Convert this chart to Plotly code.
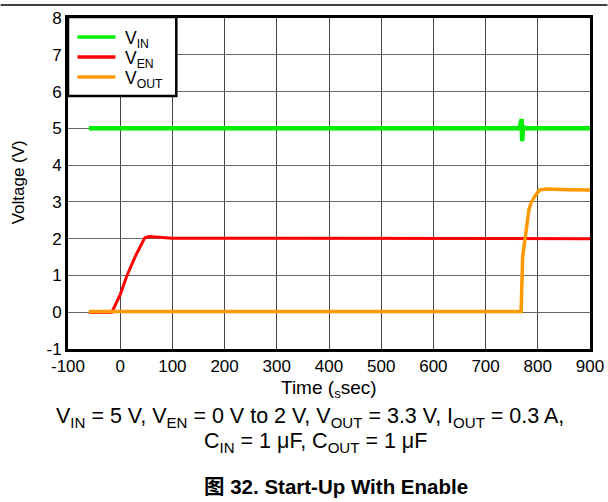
import plotly.graph_objects as go

# values
vin_t = [-60, 200, 500, 765, 769, 770, 772, 775, 900]
vin_v = [5.0, 5.0, 5.0, 5.0, 5.25, 4.65, 5.05, 5.0, 5.0]

ven_t = [-60, -16, 0, 13, 30, 41, 47, 55, 70, 100, 900]
ven_v = [0.0, 0.0, 0.48, 1.0, 1.55, 1.88, 2.02, 2.06, 2.04, 2.01, 2.0]

vout_t = [-60, 768, 771, 775, 778, 783, 787, 794, 803, 816, 860, 900]
vout_v = [0.02, 0.02, 1.51, 1.97, 2.33, 2.79, 2.97, 3.15, 3.32, 3.35, 3.33, 3.32]

x_ticks = [-100, 0, 100, 200, 300, 400, 500, 600, 700, 800, 900]
y_ticks = [-1, 0, 1, 2, 3, 4, 5, 6, 7, 8]

series_names = ["V<sub>IN</sub>", "V<sub>EN</sub>", "V<sub>OUT</sub>"]
series_colors = ["#00ee00", "#ff0000", "#ff9900"]

FONT = "Liberation Sans, Arial, Noto Sans CJK SC"
W, H = 608, 502
L, R, T, B = 67.5, 17.5, 18, 152.5
PW, PH = W - L - R, H - T - B


def px_x(x):
    return (x - L) / PW


def px_y(y):
    return (H - B - y) / PH


fig = go.Figure()
for t, v, name, color, width in zip([vin_t, ven_t, vout_t], [vin_v, ven_v, vout_v],
                                    series_names, series_colors, [4.5, 3, 3.5]):
    fig.add_trace(go.Scatter(x=t, y=v, mode="lines", name=name,
                             line=dict(color=color, width=width), showlegend=False))

axis_common = dict(showline=True, linecolor="black", linewidth=3, mirror=True,
                   ticks="", zeroline=False, automargin=False,
                   tickfont=dict(size=17, color="black"))
fig.update_xaxes(range=[-100, 900], tickvals=x_ticks, ticktext=[str(v) for v in x_ticks],
                 gridcolor="#444", gridwidth=1, **axis_common)
fig.update_yaxes(range=[-1, 8], tickvals=y_ticks, ticktext=[str(v) for v in y_ticks],
                 gridcolor="#666", gridwidth=1, **axis_common)

notes = [
    dict(x=px_x(328.5), y=px_y(390), text="Time (<sub>s</sub>sec)", font=dict(size=19)),
    dict(x=px_x(18), y=px_y(183), text="Voltage (V)", textangle=-90, font=dict(size=17)),
    dict(x=px_x(309.5), y=px_y(418),
         text="V<sub>IN</sub> = 5 V, V<sub>EN</sub> = 0 V to 2 V, V<sub>OUT</sub> = 3.3 V, I<sub>OUT</sub> = 0.3 A,",
         font=dict(size=21.5)),
    dict(x=px_x(315), y=px_y(443), text="C<sub>IN</sub> = 1 μF, C<sub>OUT</sub> = 1 μF",
         font=dict(size=21.5)),
    dict(x=px_x(336), y=px_y(487), text="<b>图 32. Start-Up With Enable</b>", font=dict(size=20.5)),
]
for n in notes:
    fig.add_annotation(xref="paper", yref="paper", showarrow=False,
                       xanchor="center", yanchor="middle", **n)

# hand-drawn legend box, to match the reference's tight rows
fig.add_shape(type="rect", xref="paper", yref="paper", layer="above",
              x0=px_x(67.5), x1=px_x(176), y0=px_y(17), y1=px_y(96),
              fillcolor="white", line=dict(color="black", width=2.5))
for i, (name, color) in enumerate(zip(series_names, series_colors)):
    row_y = 37 + 20 * i
    fig.add_shape(type="line", xref="paper", yref="paper", layer="above",
                  x0=px_x(77), x1=px_x(115), y0=px_y(row_y), y1=px_y(row_y),
                  line=dict(color=color, width=3.5))
    fig.add_annotation(xref="paper", yref="paper", showarrow=False,
                       x=px_x(123), y=px_y(row_y + 3), xanchor="left", yanchor="middle",
                       text=name, font=dict(size=17.5))

fig.add_shape(type="line", xref="paper", yref="paper",
              x0=px_x(0), x1=px_x(W), y0=px_y(5), y1=px_y(5),
              line=dict(color="black", width=1.5))

fig.update_layout(
    width=W, height=H,
    margin=dict(l=L, r=R, t=T, b=B),
    paper_bgcolor="white", plot_bgcolor="white",
    font=dict(family=FONT, size=17, color="black"),
    showlegend=False,
)

fig.write_html("out.html", config={"displayModeBar": False},
               post_script="document.body.style.margin='0';")
